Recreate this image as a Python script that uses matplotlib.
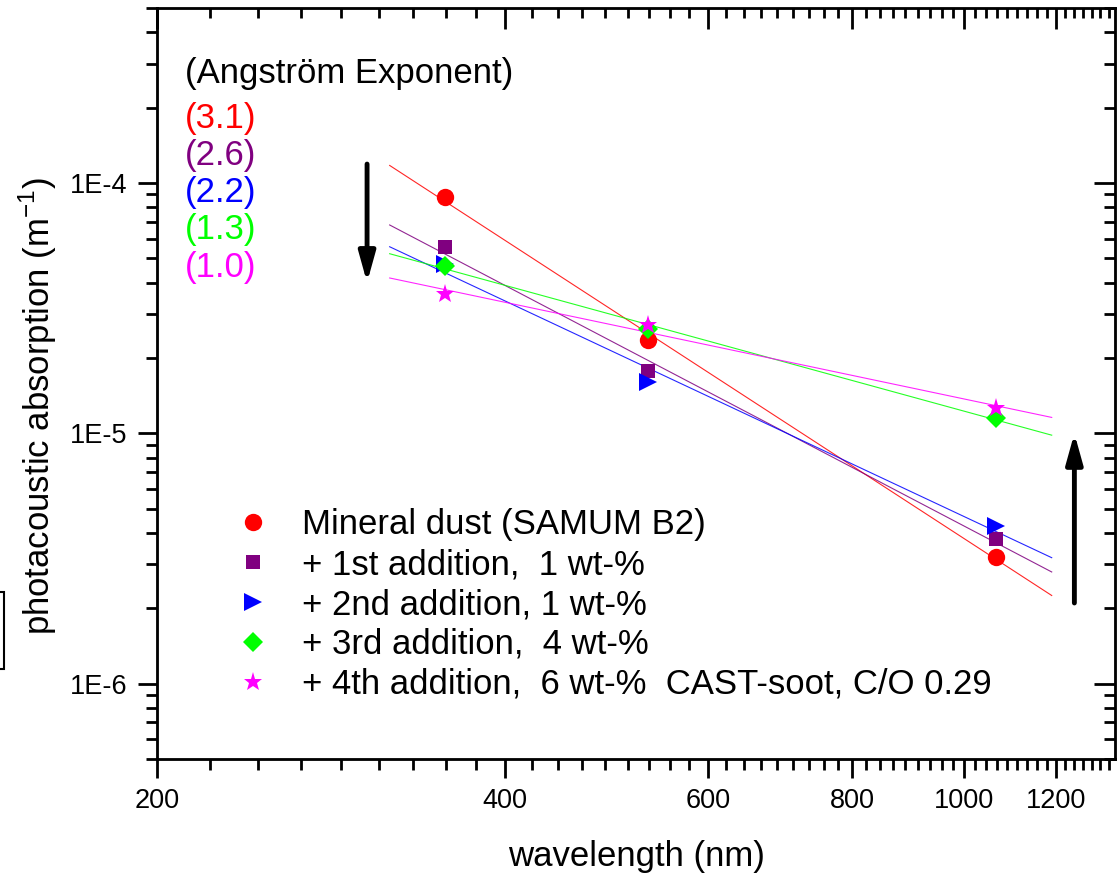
import numpy as np
import matplotlib
matplotlib.use('Agg')
import matplotlib.pyplot as plt
from matplotlib.ticker import FixedLocator, LogLocator, FuncFormatter, NullFormatter

plt.rcParams['font.family'] = ['Liberation Sans', 'DejaVu Sans']

## Data
wavelength = [355, 532, 1064]
dust = [8.79e-5, 2.36e-5, 3.22e-6]
add1 = [5.55e-5, 1.77e-5, 3.80e-6]
add2 = [4.74e-5, 1.61e-5, 4.25e-6]
add3 = [4.66e-5, 2.61e-5, 1.15e-5]
add4 = [3.60e-5, 2.70e-5, 1.26e-5]

labels = ['Mineral dust (SAMUM B2)',
          '+ 1st addition,  1 wt-%',
          '+ 2nd addition, 1 wt-%',
          '+ 3rd addition,  4 wt-%',
          '+ 4th addition,  6 wt-%  CAST-soot, C/O 0.29']
exponents = ['(3.1)', '(2.6)', '(2.2)', '(1.3)', '(1.0)']
colors = ['#ff0000', '#800080', '#0000ff', '#00ff00', '#ff00ff']
markers = ['o', 's', '>', 'D', '*']
msizes = [12.5, 9.5, 12.5, 10, 14]

fit_range = [318, 1190]
x_major = [200, 400, 600, 800, 1000, 1200]

# arrows (data coords): x, y_start, y_end
arrow_down = (304, 1.19e-4, 4.0e-5)
arrow_up = (1245, 2.1e-6, 1.0e-5)

fig = plt.figure(figsize=(11.19, 8.73), dpi=100)
ax = fig.add_axes([157 / 1119, 114 / 873, 958 / 1119, 751 / 873])
ax.set_xscale('log')
ax.set_yscale('log')

series = [dust, add1, add2, add3, add4]
xfit = np.geomspace(fit_range[0], fit_range[1], 50)
for vals, c in zip(series, colors):
    p = np.polyfit(np.log(wavelength), np.log(vals), 1)
    ax.plot(xfit, np.exp(np.polyval(p, np.log(xfit))), color=c, lw=0.8, alpha=0.85)
for vals, c, m, ms, lab in zip(series, colors, markers, msizes, labels):
    ax.plot(wavelength, vals, ls='none', marker=m, color=c, markersize=ms,
            markeredgewidth=0, label=lab)

ax.set_xlim(200, 1350)
ax.set_ylim(5e-7, 5e-4)

# ticks
minor_x = [200 + k * 200 / 9 for k in range(1, 60) if k % 9 != 0 and 200 + k * 200 / 9 < 1350]
ax.xaxis.set_major_locator(FixedLocator(x_major))
ax.xaxis.set_minor_locator(FixedLocator(minor_x))
ax.xaxis.set_major_formatter(FuncFormatter(lambda v, pos: f'{int(v)}'))
ax.xaxis.set_minor_formatter(NullFormatter())
ax.yaxis.set_major_locator(LogLocator(base=10, subs=[1.0]))
ax.yaxis.set_minor_locator(LogLocator(base=10, subs=np.arange(2, 10)))
ax.yaxis.set_major_formatter(FuncFormatter(lambda v, pos: f'1E{int(round(np.log10(v)))}'))
ax.yaxis.set_minor_formatter(NullFormatter())

ax.tick_params(which='major', direction='out', length=14, width=2, labelsize=19.5, pad=7)
ax.tick_params(which='minor', direction='out', length=8, width=2)
ax.tick_params(top=False, right=False)
for s in ax.spines.values():
    s.set_linewidth(2)

# inward ticks on the top and right sides (twiny shares y, twinx shares x)
axt = ax.twiny()
axt.set_xscale('log')
axt.set_xlim(ax.get_xlim())
axt.xaxis.set_major_locator(FixedLocator(x_major))
axt.xaxis.set_minor_locator(FixedLocator(minor_x))
axt.xaxis.set_major_formatter(NullFormatter())
axt.xaxis.set_minor_formatter(NullFormatter())
axt.tick_params(axis='x', which='major', direction='in', length=15, width=2)
axt.tick_params(axis='x', which='minor', direction='in', length=7, width=2)

axr = ax.twinx()
axr.set_yscale('log')
axr.set_ylim(ax.get_ylim())
axr.yaxis.set_major_locator(LogLocator(base=10, subs=[1.0]))
axr.yaxis.set_minor_locator(LogLocator(base=10, subs=np.arange(2, 10)))
axr.yaxis.set_major_formatter(NullFormatter())
axr.yaxis.set_minor_formatter(NullFormatter())
axr.tick_params(axis='y', which='major', direction='in', length=15, width=2)
axr.tick_params(axis='y', which='minor', direction='in', length=8, width=2)

ax.set_xlabel('wavelength (nm)', fontsize=25)
ax.set_ylabel('photacoustic absorption (m$^{\\mathregular{-1}}$)', fontsize=25)
ax.xaxis.set_label_coords(0.5, -0.108)
ax.yaxis.set_label_coords(-0.102, 0.47)

# Angstrom exponent annotation
ax.text(0.029, 0.913, '(Angström Exponent)', transform=ax.transAxes, fontsize=25,
        va='center', ha='left')
for i, (t, c) in enumerate(zip(exponents, colors)):
    ax.text(0.029, 0.853 - i * 0.0495, t, transform=ax.transAxes, fontsize=25,
            va='center', ha='left', color=c)

# arrows
for ax_x, y0, y1 in [arrow_down, arrow_up]:
    ax.annotate('', xy=(ax_x, y1), xytext=(ax_x, y0),
                arrowprops=dict(arrowstyle='-|>,head_length=0.9,head_width=0.25',
                                lw=3.5, color='black', mutation_scale=20,
                                shrinkA=0, shrinkB=0))

leg = ax.legend(loc='upper left', bbox_to_anchor=(0.082, 0.334), frameon=False,
                fontsize=25, handlelength=1.0, handletextpad=0.9, labelspacing=0.2,
                borderpad=0, borderaxespad=0, numpoints=1)

# partial box at the left edge of the original figure
fig.add_artist(plt.Rectangle((-0.02, (873 - 669) / 873), 0.02 + 4 / 1119, 77 / 873,
                             transform=fig.transFigure, fill=False, lw=1.5, color='black'))

fig.savefig('out.png', dpi=100)
